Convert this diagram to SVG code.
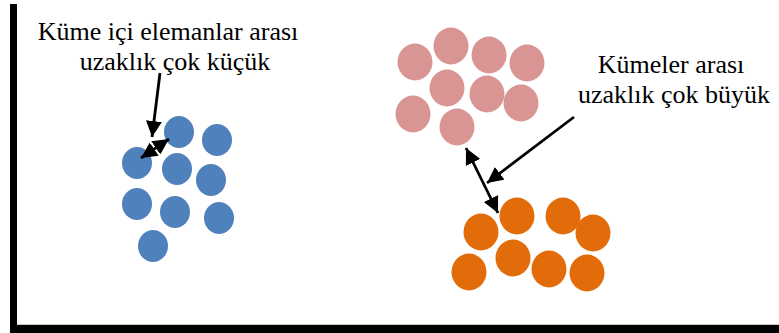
<svg xmlns="http://www.w3.org/2000/svg" width="779" height="333" viewBox="0 0 779 333">
  <style>
    .lbl { font-family: "Liberation Serif", "Times New Roman", serif; font-size: 26px; fill: #000; text-anchor: middle; }
    .blue { fill: #4f81bd; }
    .pink { fill: #d99594; }
    .orange { fill: #e36c0a; }
    .arrow { stroke: #000; stroke-width: 2.8; fill: none; }
  </style>
  <defs>
    <marker id="head" viewBox="0 0 16 16" refX="16" refY="8" markerWidth="16" markerHeight="16" markerUnits="userSpaceOnUse" orient="auto-start-reverse">
      <path d="M0,0 L16,8 L0,16 Z" fill="#000"/>
    </marker>
  </defs>

  <rect width="779" height="333" fill="#fff"/>

  <!-- frame: left and bottom bars -->
  <g id="frame">
    <rect x="10" y="4" width="7" height="328" fill="#000"/>
    <rect x="10" y="325" width="769" height="8" fill="#000"/>
    <line x1="17" y1="324.5" x2="779" y2="324.5" stroke="#c8c8c8" stroke-width="1"/>
  </g>

  <!-- blue cluster -->
  <g id="cluster-blue" class="blue">
    <ellipse cx="179" cy="132" rx="15" ry="16"/>
    <ellipse cx="217" cy="140" rx="15" ry="16"/>
    <ellipse cx="137" cy="163" rx="15" ry="16"/>
    <ellipse cx="177" cy="169" rx="15" ry="16"/>
    <ellipse cx="211" cy="180" rx="15" ry="16"/>
    <ellipse cx="137" cy="204" rx="15" ry="16"/>
    <ellipse cx="175" cy="212" rx="15" ry="16"/>
    <ellipse cx="219" cy="218" rx="15" ry="16"/>
    <ellipse cx="153" cy="246" rx="15" ry="16"/>
  </g>

  <!-- pink cluster -->
  <g id="cluster-pink" class="pink">
    <ellipse cx="415" cy="62" rx="17.5" ry="18.5"/>
    <ellipse cx="451" cy="46" rx="17.5" ry="18.5"/>
    <ellipse cx="489" cy="55" rx="17.5" ry="18.5"/>
    <ellipse cx="527" cy="63" rx="17.5" ry="18.5"/>
    <ellipse cx="447" cy="88" rx="17.5" ry="18.5"/>
    <ellipse cx="487" cy="94" rx="17.5" ry="18.5"/>
    <ellipse cx="521" cy="103" rx="17.5" ry="18.5"/>
    <ellipse cx="413" cy="114" rx="17.5" ry="18.5"/>
    <ellipse cx="457" cy="127" rx="17.5" ry="18.5"/>
  </g>

  <!-- orange cluster -->
  <g id="cluster-orange" class="orange">
    <ellipse cx="517" cy="216" rx="17.5" ry="18.5"/>
    <ellipse cx="563" cy="216" rx="17.5" ry="18.5"/>
    <ellipse cx="481" cy="232" rx="17.5" ry="18.5"/>
    <ellipse cx="593" cy="233" rx="17.5" ry="18.5"/>
    <ellipse cx="513" cy="258" rx="17.5" ry="18.5"/>
    <ellipse cx="469" cy="272" rx="17.5" ry="18.5"/>
    <ellipse cx="549" cy="269" rx="17.5" ry="18.5"/>
    <ellipse cx="587" cy="273" rx="17.5" ry="18.5"/>
  </g>

  <!-- labels -->
  <g id="label-intra">
    <text class="lbl" x="168" y="40">Küme içi elemanlar arası</text>
    <text class="lbl" x="175" y="70">uzaklık çok küçük</text>
  </g>
  <g id="label-inter">
    <text class="lbl" x="671" y="73">Kümeler arası</text>
    <text class="lbl" x="674" y="103">uzaklık çok büyük</text>
  </g>

  <!-- connectors -->
  <g id="connectors" class="arrow">
    <line x1="160" y1="73" x2="152" y2="137" marker-end="url(#head)"/>
    <line x1="141" y1="158" x2="169" y2="139" marker-start="url(#head)" marker-end="url(#head)"/>
    <line x1="574" y1="117" x2="487" y2="183" marker-end="url(#head)"/>
    <line x1="466" y1="148" x2="498" y2="213" marker-start="url(#head)" marker-end="url(#head)"/>
  </g>
</svg>
